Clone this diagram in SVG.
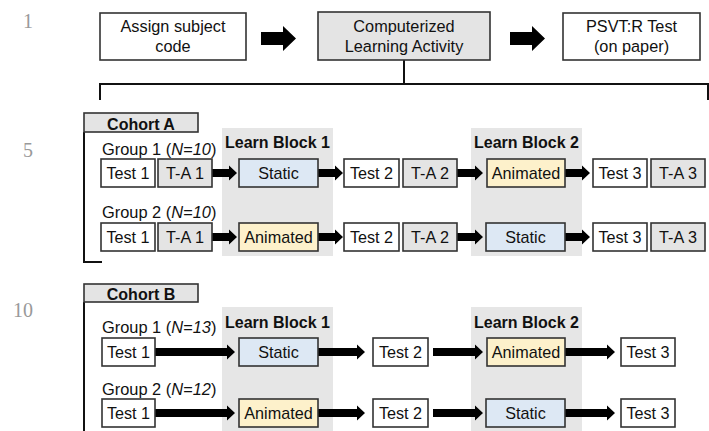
<svg xmlns="http://www.w3.org/2000/svg" width="709" height="431" viewBox="0 0 709 431">
<style>
text{font-family:"Liberation Sans",Arial,sans-serif;fill:#111}
.ln{font-family:"Liberation Serif","Times New Roman",serif;fill:#999;font-size:20px;text-anchor:end}
.bx{stroke:#333;stroke-width:1.6}
.w{fill:#fff}.g{fill:#e4e4e4}.b{fill:#dde8f4}.y{fill:#fdf1cb}
.panel{fill:#e6e6e6}
.t{font-size:16.2px;text-anchor:middle}
.top{font-size:16.3px;text-anchor:middle}
.lb{font-size:16px;font-weight:bold}
.gr{font-size:16.4px}
.line{fill:none;stroke:#111;stroke-width:2}
.arr{fill:#000}
</style>
<text class="ln" x="33" y="28">1</text>
<text class="ln" x="33" y="157">5</text>
<text class="ln" x="33" y="317">10</text>
<rect class="panel" x="222" y="128" width="111" height="128"/>
<rect class="panel" x="471" y="128" width="111" height="128"/>
<rect class="panel" x="222" y="307" width="111" height="124"/>
<rect class="panel" x="471" y="307" width="111" height="124"/>
<g id="connectors">
<path class="line" d="M404 60V84M100 100V84H708V100"/>
<path class="line" d="M84 132V262H102"/>
<path class="line" d="M84 302V431"/>
<path class="arr" d="M261 32H283V26L296 38.5L283 51V45H261Z"/>
<path class="arr" d="M510 32H532V26L545 38.5L532 51V45H510Z"/>
<path class="arr" d="M212 169H229V165.5L237 173L229 180.5V177H212Z"/>
<path class="arr" d="M318 169H335V165.5L343 173L335 180.5V177H318Z"/>
<path class="arr" d="M457 169H475V165.5L483 173L475 180.5V177H457Z"/>
<path class="arr" d="M565 169H582V165.5L590 173L582 180.5V177H565Z"/>
<path class="arr" d="M212 233H229V229.5L237 237L229 244.5V241H212Z"/>
<path class="arr" d="M318 233H335V229.5L343 237L335 244.5V241H318Z"/>
<path class="arr" d="M457 233H475V229.5L483 237L475 244.5V241H457Z"/>
<path class="arr" d="M565 233H582V229.5L590 237L582 244.5V241H565Z"/>
<path class="arr" d="M155 348H227V344.5L235 352L227 359.5V356H155Z"/>
<path class="arr" d="M318 348H357V344.5L365 352L357 359.5V356H318Z"/>
<path class="arr" d="M433 348H475V344.5L483 352L475 359.5V356H433Z"/>
<path class="arr" d="M565 348H607V344.5L615 352L607 359.5V356H565Z"/>
<path class="arr" d="M155 409H227V405.5L235 413L227 420.5V417H155Z"/>
<path class="arr" d="M318 409H357V405.5L365 413L357 420.5V417H318Z"/>
<path class="arr" d="M433 409H475V405.5L483 413L475 420.5V417H433Z"/>
<path class="arr" d="M565 409H607V405.5L615 413L607 420.5V417H565Z"/>
</g>
<g id="assign"><rect class="bx w" x="100" y="13" width="146" height="47"/><text class="top" x="173" y="32">Assign subject</text><text class="top" x="173" y="52">code</text></g>
<g id="computerized"><rect class="bx g" x="318" y="12" width="172" height="48"/><text class="top" x="404" y="32">Computerized</text><text class="top" x="404" y="52">Learning Activity</text></g>
<g id="psvt"><rect class="bx w" x="563" y="13" width="137" height="47"/><text class="top" x="631.5" y="32">PSVT:R Test</text><text class="top" x="631.5" y="52">(on paper)</text></g>
<g id="cohortA"><rect class="bx g" x="84" y="113" width="114" height="19"/><text class="lb" x="141" y="129.5" text-anchor="middle">Cohort A</text></g>
<g id="cohortB"><rect class="bx g" x="84" y="284" width="114" height="18"/><text class="lb" x="141" y="300" text-anchor="middle">Cohort B</text></g>
<g id="labels">
<text class="lb" x="277.5" y="148" text-anchor="middle">Learn Block 1</text>
<text class="lb" x="526.5" y="148" text-anchor="middle">Learn Block 2</text>
<text class="lb" x="277.5" y="328" text-anchor="middle">Learn Block 1</text>
<text class="lb" x="526.5" y="328" text-anchor="middle">Learn Block 2</text>
<text class="gr" x="102" y="155">Group 1 (<tspan font-style="italic">N=10</tspan>)</text>
<text class="gr" x="102" y="218">Group 2 (<tspan font-style="italic">N=10</tspan>)</text>
<text class="gr" x="102" y="333">Group 1 (<tspan font-style="italic">N=13</tspan>)</text>
<text class="gr" x="102" y="395">Group 2 (<tspan font-style="italic">N=12</tspan>)</text>
</g>
<g id="a1-test1"><rect class="bx w" x="101" y="159" width="54" height="28"/><text class="t" x="128" y="178.8">Test 1</text></g>
<g id="a1-ta1"><rect class="bx g" x="158" y="159" width="54" height="28"/><text class="t" x="185" y="178.8">T-A 1</text></g>
<g id="a1-static"><rect class="bx b" x="239" y="159" width="79" height="28"/><text class="t" x="278.5" y="178.8">Static</text></g>
<g id="a1-test2"><rect class="bx w" x="344" y="159" width="55" height="28"/><text class="t" x="371.5" y="178.8">Test 2</text></g>
<g id="a1-ta2"><rect class="bx g" x="403" y="159" width="54" height="28"/><text class="t" x="430" y="178.8">T-A 2</text></g>
<g id="a1-animated"><rect class="bx y" x="487" y="159" width="78" height="28"/><text class="t" x="526" y="178.8">Animated</text></g>
<g id="a1-test3"><rect class="bx w" x="593" y="159" width="54" height="28"/><text class="t" x="620" y="178.8">Test 3</text></g>
<g id="a1-ta3"><rect class="bx g" x="651" y="159" width="54" height="28"/><text class="t" x="678" y="178.8">T-A 3</text></g>
<g id="a2-test1"><rect class="bx w" x="101" y="223" width="54" height="28"/><text class="t" x="128" y="242.8">Test 1</text></g>
<g id="a2-ta1"><rect class="bx g" x="158" y="223" width="54" height="28"/><text class="t" x="185" y="242.8">T-A 1</text></g>
<g id="a2-animated"><rect class="bx y" x="239" y="223" width="79" height="28"/><text class="t" x="278.5" y="242.8">Animated</text></g>
<g id="a2-test2"><rect class="bx w" x="344" y="223" width="55" height="28"/><text class="t" x="371.5" y="242.8">Test 2</text></g>
<g id="a2-ta2"><rect class="bx g" x="403" y="223" width="54" height="28"/><text class="t" x="430" y="242.8">T-A 2</text></g>
<g id="a2-static"><rect class="bx b" x="486" y="223" width="79" height="28"/><text class="t" x="525.5" y="242.8">Static</text></g>
<g id="a2-test3"><rect class="bx w" x="593" y="223" width="54" height="28"/><text class="t" x="620" y="242.8">Test 3</text></g>
<g id="a2-ta3"><rect class="bx g" x="651" y="223" width="54" height="28"/><text class="t" x="678" y="242.8">T-A 3</text></g>
<g id="b1-test1"><rect class="bx w" x="102" y="338" width="53" height="28"/><text class="t" x="128.5" y="357.8">Test 1</text></g>
<g id="b1-static"><rect class="bx b" x="239" y="338" width="79" height="28"/><text class="t" x="278.5" y="357.8">Static</text></g>
<g id="b1-test2"><rect class="bx w" x="373" y="338" width="55" height="28"/><text class="t" x="400.5" y="357.8">Test 2</text></g>
<g id="b1-animated"><rect class="bx y" x="487" y="338" width="78" height="28"/><text class="t" x="526" y="357.8">Animated</text></g>
<g id="b1-test3"><rect class="bx w" x="621" y="338" width="54" height="28"/><text class="t" x="648" y="357.8">Test 3</text></g>
<g id="b2-test1"><rect class="bx w" x="102" y="399" width="53" height="28"/><text class="t" x="128.5" y="418.8">Test 1</text></g>
<g id="b2-animated"><rect class="bx y" x="239" y="399" width="79" height="28"/><text class="t" x="278.5" y="418.8">Animated</text></g>
<g id="b2-test2"><rect class="bx w" x="373" y="399" width="55" height="28"/><text class="t" x="400.5" y="418.8">Test 2</text></g>
<g id="b2-static"><rect class="bx b" x="486" y="399" width="79" height="28"/><text class="t" x="525.5" y="418.8">Static</text></g>
<g id="b2-test3"><rect class="bx w" x="621" y="399" width="54" height="28"/><text class="t" x="648" y="418.8">Test 3</text></g>
</svg>
